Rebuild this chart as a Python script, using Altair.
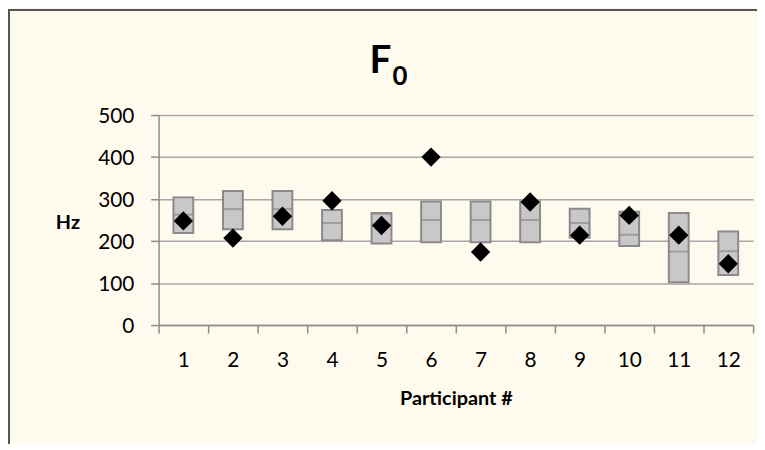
import altair as alt
import pandas as pd

participants = [str(i) for i in range(1, 13)]
box_low = [219, 228, 228, 202, 194, 197, 197, 197, 208, 188, 102, 119]
box_mid = [263, 276, 276, 243, 265, 250, 250, 250, 243, 215, 175, 176]
box_high = [304, 319, 319, 274, 267, 294, 294, 294, 277, 270, 267, 223]
mean_f0 = [248, 207, 259, 296, 237, 400, 174, 293, 214, 261, 214, 146]

df = pd.DataFrame({
    "participant": participants,
    "low": box_low,
    "mid": box_mid,
    "high": box_high,
    "f0": mean_f0,
})

FONT = "Lato"
GRID = "#a6a6a6"
AXIS = "#8c8c8c"

x_enc = alt.X(
    "participant:O",
    sort=participants,
    scale=alt.Scale(paddingInner=0, paddingOuter=0),
    axis=alt.Axis(
        title="Participant #",
        labelAngle=0,
        tickBand="extent",
        tickSize=8,
        tickColor=AXIS,
        tickWidth=1.5,
        domainColor=AXIS,
        domainWidth=1.5,
        labelFont=FONT,
        labelFontSize=21,
        labelColor="black",
        labelBaseline="alphabetic",
        labelPadding=34,
        titleFont=FONT,
        titleFontSize=20,
        titleFontWeight="bold",
        titleColor="black",
        titleBaseline="alphabetic",
        titleY=80,
        grid=False,
    ),
)

y_scale = alt.Scale(domain=[0, 500], nice=False, zero=True)
y_axis = alt.Axis(
    title="Hz",
    values=[0, 100, 200, 300, 400, 500],
    grid=True,
    gridColor=GRID,
    gridWidth=1.5,
    tickSize=8,
    tickColor=AXIS,
    tickWidth=1.5,
    domainColor=AXIS,
    domainWidth=1.5,
    labelFont=FONT,
    labelFontSize=21,
    labelColor="black",
    labelPadding=17,
    labelOffset=2,
    titleFont=FONT,
    titleFontSize=20,
    titleFontWeight="bold",
    titleColor="black",
    titleAngle=0,
    titleAlign="center",
    titleBaseline="middle",
    titleX=-92,
    titleY=109,
)

base = alt.Chart(df)
one = alt.Data(values=[{"k": 1}])

border_left = alt.Chart(one).mark_rule(color="#555555", strokeWidth=2).encode(
    x=alt.value(-151), y=alt.value(-106), y2=alt.value(400)
)
border_top = alt.Chart(one).mark_rule(color="#555555", strokeWidth=2).encode(
    x=alt.value(-152), x2=alt.value(800), y=alt.value(-106)
)

boxes = base.mark_bar(
    width=20, fill="#c8c8c8", stroke="#8a8a8a", strokeWidth=2
).encode(
    x=x_enc,
    y=alt.Y("low:Q", scale=y_scale, axis=y_axis),
    y2="high:Q",
)

mids = base.mark_tick(size=20, thickness=2, color="#8a8a8a").encode(
    x=x_enc,
    y=alt.Y("mid:Q", scale=y_scale),
)

points = base.mark_point(
    shape="diamond", filled=True, color="black", size=380, opacity=1
).encode(
    x=x_enc,
    y=alt.Y("f0:Q", scale=y_scale),
)

title_f = alt.Chart(alt.Data(values=[{"t": "F"}])).mark_text(
    font=FONT, fontWeight="bold", fontSize=39, align="left",
    baseline="alphabetic", color="black"
).encode(text="t:N", x=alt.value(213), y=alt.value(-42))

title_0 = alt.Chart(alt.Data(values=[{"t": "0"}])).mark_text(
    font=FONT, fontWeight="bold", fontSize=26, align="left",
    baseline="alphabetic", color="black"
).encode(text="t:N", x=alt.value(236), y=alt.value(-30))

chart = alt.layer(
    border_left, border_top, boxes, mids, points, title_f, title_0
).properties(
    width=600,
    height=212,
    padding={"left": 152, "top": 106, "right": 4, "bottom": 118},
    autosize=alt.AutoSizeParams(type="none"),
    background="#fffaee",
).configure_view(strokeWidth=0)

chart.save("out.html", embed_options={"renderer": "svg", "actions": False})
